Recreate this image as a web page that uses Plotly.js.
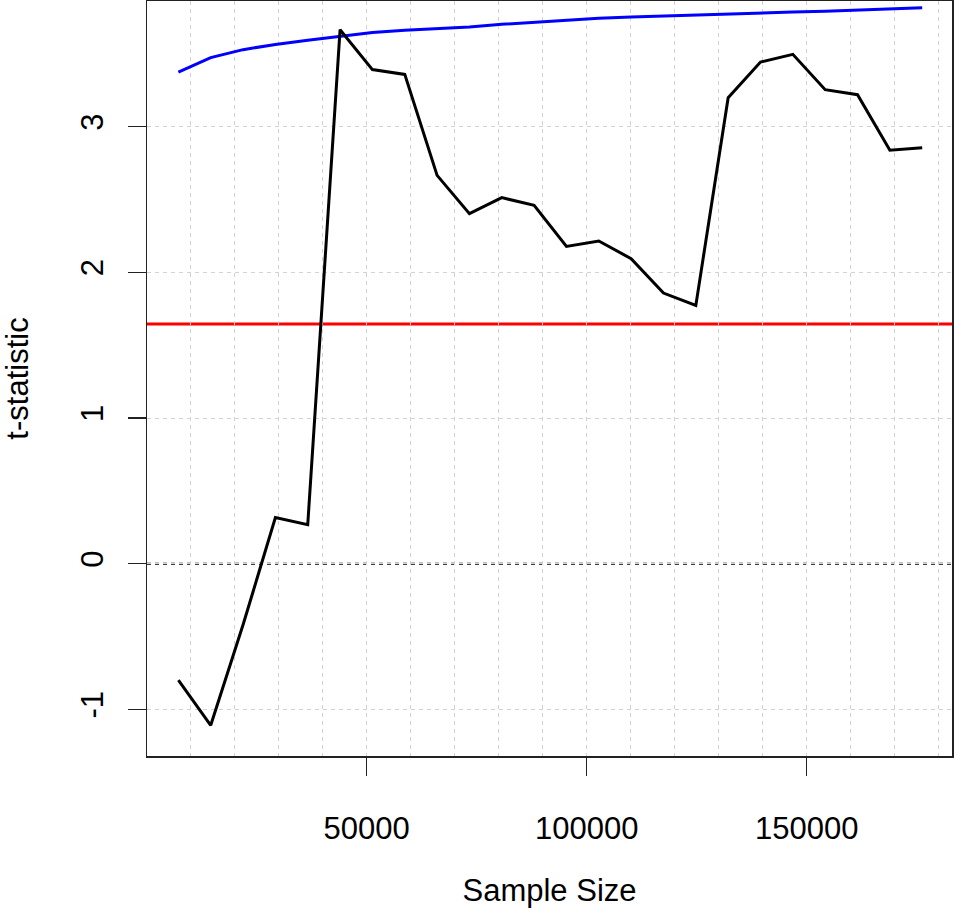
<!DOCTYPE html>
<html>
<head>
<meta charset="utf-8">
<script src="https://cdn.plot.ly/plotly-3.0.1.min.js"></script>
<style>html,body{margin:0;padding:0;background:#fff;}#chart{width:954px;height:910px;}</style>
</head>
<body>
<div id="chart"></div>
<script>
// Data
const sampleSize = [7200, 14550, 21900, 29250, 36600, 43950, 51300, 58650, 66000, 73350, 80700, 88050,
                    95400, 102750, 110100, 117450, 124800, 132150, 139500, 146850, 154200, 161550, 168900, 176250];
const tStatistic = [-0.80, -1.11, -0.42, 0.316, 0.268, 3.666, 3.392, 3.359, 2.666, 2.403, 2.513, 2.460,
                    2.178, 2.215, 2.094, 1.858, 1.773, 3.199, 3.444, 3.497, 3.254, 3.220, 2.838, 2.856];
const boundary   = [3.375, 3.474, 3.529, 3.565, 3.593, 3.621, 3.646, 3.662, 3.675, 3.684, 3.703, 3.717,
                    3.731, 3.744, 3.753, 3.760, 3.771, 3.776, 3.780, 3.787, 3.792, 3.801, 3.806, 3.817];
const criticalValue = 1.645;
const zeroLevel = 0;
const xTickVals = [50000, 100000, 150000];
const xTickText = ['50000', '100000', '150000'];
const yTickVals = [-1, 0, 1, 2, 3];
const yTickText = ['-1', '0', '1', '2', '3'];
const xTitle = 'Sample Size';
const yTitle = 't-statistic';

const FONT = '"Liberation Sans", Arial, Helvetica, sans-serif';
const gridStyle = {gridcolor: '#d3d3d3', gridwidth: 1, griddash: '4px,4px'};

const traces = [
  {x: sampleSize, y: boundary, type: 'scatter', mode: 'lines',
   line: {color: '#0000ff', width: 3}, hoverinfo: 'x+y'},
  {x: sampleSize, y: tStatistic, type: 'scatter', mode: 'lines',
   line: {color: '#000000', width: 3}, hoverinfo: 'x+y'}
];

const layout = {
  width: 954, height: 910,
  margin: {l: 147, r: 2, t: 1, b: 154, pad: 0},
  paper_bgcolor: '#ffffff', plot_bgcolor: '#ffffff',
  showlegend: false,
  font: {family: FONT, size: 31, color: '#000000'},
  xaxis: Object.assign({
    range: [68, 183023], autorange: false,
    tickmode: 'array', tickvals: xTickVals, ticktext: xTickText,
    ticks: 'outside', ticklen: 18, tickwidth: 1.5, tickcolor: '#222',
    ticklabelstandoff: 26,
    showgrid: true, zeroline: false,
    showline: true, mirror: true, linecolor: '#222', linewidth: 1.5,
    tickfont: {family: FONT, size: 31, color: '#000'},
    title: {text: xTitle, font: {family: FONT, size: 31, color: '#000'}, standoff: 34},
    minor: Object.assign({dtick: 10000, tick0: 0, showgrid: true, ticks: ''}, gridStyle)
  }, gridStyle),
  yaxis: Object.assign({
    range: [-1.3206, 3.863], autorange: false,
    tickmode: 'array', tickvals: yTickVals, ticktext: yTickText,
    tickangle: -90,
    ticks: 'outside', ticklen: 18, tickwidth: 1.5, tickcolor: '#222',
    ticklabelstandoff: 12,
    showgrid: true, zeroline: false,
    showline: true, mirror: true, linecolor: '#222', linewidth: 1.5,
    tickfont: {family: FONT, size: 31, color: '#000'},
    title: {text: yTitle, font: {family: FONT, size: 31, color: '#000'}, standoff: 45}
  }, gridStyle),
  shapes: [
    {type: 'line', xref: 'paper', x0: 0, x1: 1, yref: 'y', y0: criticalValue, y1: criticalValue,
     line: {color: '#ff0000', width: 3}, layer: 'below'},
    {type: 'line', xref: 'paper', x0: 0, x1: 1, yref: 'y', y0: zeroLevel, y1: zeroLevel,
     line: {color: '#000000', width: 2, dash: '4px,4px'}, layer: 'below'}
  ]
};

Plotly.newPlot('chart', traces, layout, {staticPlot: true, displayModeBar: false});
</script>
</body>
</html>
